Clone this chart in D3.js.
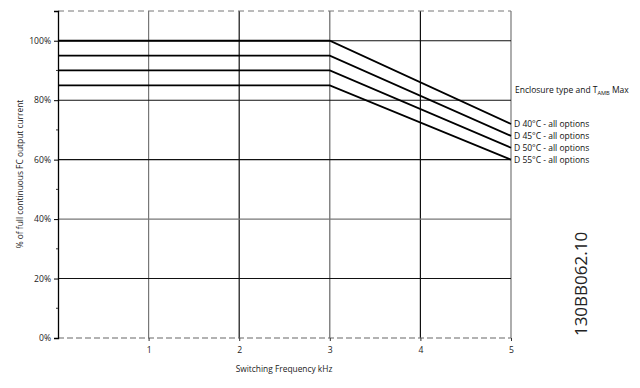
<!DOCTYPE html>
<html><head><meta charset="utf-8">
<script src="https://cdn.jsdelivr.net/npm/d3@7"></script>
<style>body{margin:0;background:#fff}svg{display:block;font-family:"Open Sans",sans-serif}</style>
</head><body>
<svg id="c" width="640" height="388"></svg>
<script>
const freqs = [0, 3, 5];
const seriesNames = ["D 40°C - all options", "D 45°C - all options", "D 50°C - all options", "D 55°C - all options"];
const seriesValues = [
  [100, 100, 72],
  [95, 95, 68],
  [90, 90, 64],
  [85, 85, 60]
];
const xTicks = [1, 2, 3, 4, 5];
const yTicks = [0, 20, 40, 60, 80, 100];
const yMinor = [10, 30, 50, 70, 90];
const yTickLabels = ["0%", "20%", "40%", "60%", "80%", "100%"];

const svg = d3.select("#c");
const x = d3.scaleLinear().domain([0, 5]).range([58, 511]);
const y = d3.scaleLinear().domain([0, 110]).range([338, 11]);

// vertical gridlines
const vCol = {1: "#777", 2: "#111", 3: "#666", 4: "#111", 5: "#777"};
svg.append("g").selectAll("line").data(xTicks).join("line")
  .attr("x1", d => x(d)).attr("x2", d => x(d)).attr("y1", y(110)).attr("y2", y(0))
  .attr("stroke", d => vCol[d]).attr("stroke-width", 1.2);
// horizontal gridlines
svg.append("g").selectAll("line").data(yTicks.filter(d => d > 0)).join("line")
  .attr("x1", x(0)).attr("x2", x(5)).attr("y1", d => y(d)).attr("y2", d => y(d))
  .attr("stroke", d => d === 40 ? "#777" : "#111").attr("stroke-width", 1.1);
// top and bottom dashed
svg.append("line").attr("x1", x(0)).attr("x2", x(5)).attr("y1", y(110)).attr("y2", y(110))
  .attr("stroke", "#777").attr("stroke-width", 1).attr("stroke-dasharray", "6,4");
svg.append("line").attr("x1", x(0)).attr("x2", x(5)).attr("y1", y(0)).attr("y2", y(0))
  .attr("stroke", "#666").attr("stroke-width", 1.2).attr("stroke-dasharray", "6,3");

// y axis
const yAxis = d3.axisLeft(y).tickValues(yTicks).tickSize(4).tickPadding(3)
  .tickFormat((d, i) => yTickLabels[i]);
const gy = svg.append("g").attr("transform", `translate(${x(0)},0)`).call(yAxis);
gy.select(".domain").attr("stroke", "#000").attr("stroke-width", 1.3);
gy.selectAll("text").attr("font-size", 8.6).attr("fill", "#222").attr("font-family", "Open Sans");
svg.append("g").selectAll("line").data(yMinor).join("line")
  .attr("x1", x(0) - 2).attr("x2", x(0)).attr("y1", d => y(d)).attr("y2", d => y(d))
  .attr("stroke", "#333");

// x axis labels
const xAxis = d3.axisBottom(x).tickValues(xTicks).tickSize(3).tickPadding(6).tickFormat(d3.format("d"));
const gx = svg.append("g").attr("transform", `translate(0,${y(0)})`).call(xAxis);
gx.select(".domain").remove();
gx.selectAll("line").attr("stroke", "#333");
gx.selectAll("text").attr("font-size", 8.6).attr("fill", "#222").attr("font-family", "Open Sans");

// series
const line = d3.line().x((d, i) => x(freqs[i])).y(d => y(d));
svg.append("g").selectAll("path").data(seriesValues).join("path")
  .attr("d", d => line(d)).attr("fill", "none").attr("stroke", "#000").attr("stroke-width", 1.8);

// legend labels
svg.append("g").selectAll("text").data(seriesNames).join("text")
  .attr("x", x(5) + 3).attr("y", (d, i) => y(seriesValues[i][2]) + 3)
  .attr("font-size", 8.5).attr("fill", "#111").text(d => d);
const hdr = svg.append("text").attr("x", x(5) + 4).attr("y", 93).attr("font-size", 8.5).attr("fill", "#111");
hdr.append("tspan").text("Enclosure type and T");
hdr.append("tspan").attr("font-size", 5.6).attr("dy", 1.5).text("AMB");
hdr.append("tspan").attr("dy", -1.5).text(" Max");

// axis titles
svg.append("text").attr("x", 284).attr("y", 372).attr("text-anchor", "middle")
  .attr("font-size", 8.4).attr("fill", "#222").text("Switching Frequency kHz");
svg.append("text").attr("transform", "translate(23,174) rotate(-90)").attr("text-anchor", "middle")
  .attr("font-size", 8.4).attr("fill", "#222").text("% of full continuous FC output current");

// drawing number
svg.append("text").attr("transform", "translate(587,284) rotate(-90)").attr("text-anchor", "middle")
  .attr("font-size", 17).attr("fill", "#222").text("130BB062.10");
</script>
</body></html>
